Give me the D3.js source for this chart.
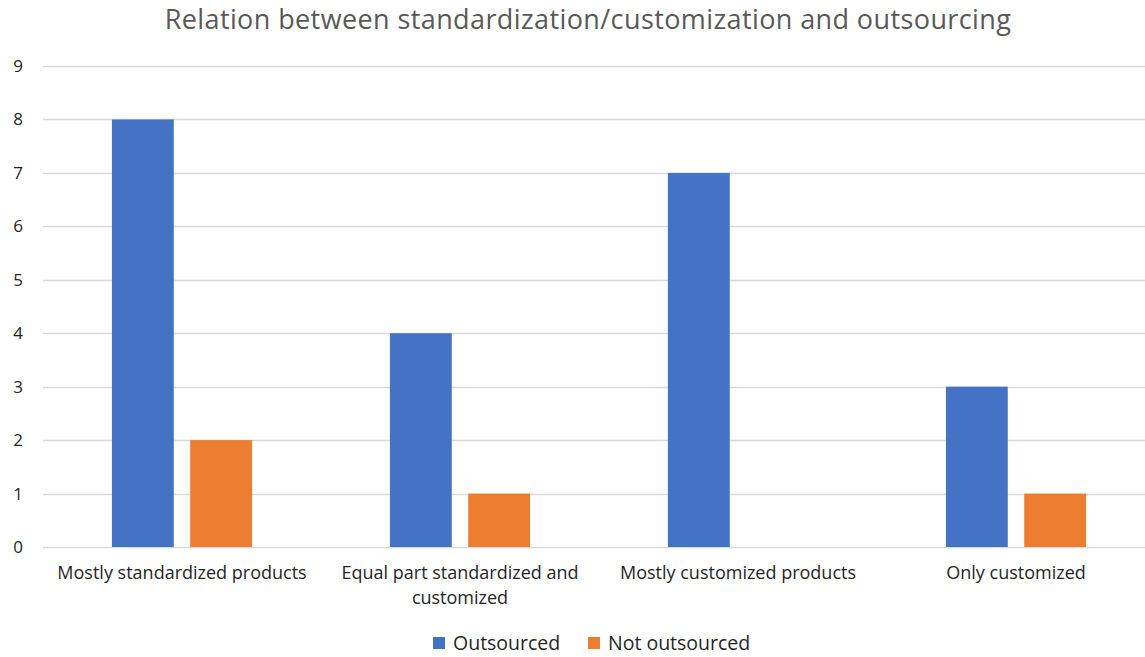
<!DOCTYPE html>
<html>
<head>
<meta charset="utf-8">
<script src="https://cdn.jsdelivr.net/npm/d3@7"></script>
<style>
  html, body { margin: 0; padding: 0; background: #fff; }
  svg { display: block; font-family: "Open Sans", Lato, sans-serif; }
</style>
</head>
<body>
<svg id="chart" width="1145" height="657"></svg>
<script>
const title = "Relation between standardization/customization and outsourcing";
const categories = [
  "Mostly standardized products",
  "Equal part standardized and customized",
  "Mostly customized products",
  "Only customized"
];
const seriesNames = ["Outsourced", "Not outsourced"];
const outsourced = [8, 4, 7, 3];
const notOutsourced = [2, 1, 0, 1];
const yTicks = [0, 1, 2, 3, 4, 5, 6, 7, 8, 9];
const colors = ["#4472C4", "#ED7D31"];

const svg = d3.select("#chart");
const margin = { left: 43, right: -10, top: 66, bottom: 110 };
const W = 1145, H = 657;
const plotLeft = margin.left, plotRight = W - margin.right;
const plotTop = margin.top, plotBottom = H - margin.bottom;

const x = d3.scaleBand().domain(categories).range([plotLeft, plotRight]).paddingInner(0).paddingOuter(0);
const xInner = d3.scaleBand().domain(seriesNames).range([0, x.bandwidth()]).paddingInner(0.21).paddingOuter(0.88);
const y = d3.scaleLinear().domain([0, 9]).range([plotBottom, plotTop]);

// gridlines
svg.append("g")
  .selectAll("line")
  .data(yTicks)
  .join("line")
  .attr("x1", plotLeft).attr("x2", W)
  .attr("y1", d => Math.round(y(d)) + 0.5).attr("y2", d => Math.round(y(d)) + 0.5)
  .attr("stroke", "#D9D9D9").attr("stroke-width", 1.5);

// y-axis labels
const yAxis = d3.axisLeft(y).tickValues(yTicks).tickSize(0).tickPadding(0);
const yg = svg.append("g").attr("transform", `translate(23,0)`).call(yAxis);
yg.select(".domain").remove();
yg.selectAll("text").attr("font-size", 17).attr("fill", "#262626")
  .attr("font-family", "'Open Sans', sans-serif");

// bars
const rows = categories.map((c, i) => ({ cat: c, vals: [outsourced[i], notOutsourced[i]] }));
const groups = svg.append("g").selectAll("g")
  .data(rows).join("g")
  .attr("transform", d => `translate(${x(d.cat)},0)`);
groups.selectAll("rect")
  .data(d => d.vals.map((v, k) => ({ k, v })))
  .join("rect")
  .attr("x", d => xInner(seriesNames[d.k]))
  .attr("width", xInner.bandwidth())
  .attr("y", d => y(d.v))
  .attr("height", d => y(0) - y(d.v))
  .attr("fill", d => colors[d.k]);

// category labels (wrapped to band width)
function wrap(textSel, width) {
  textSel.each(function () {
    const t = d3.select(this);
    const words = t.text().split(/\s+/);
    t.text(null);
    let line = [];
    let tspan = t.append("tspan").attr("x", 0).attr("dy", 0);
    words.forEach(w => {
      line.push(w);
      tspan.text(line.join(" "));
      if (tspan.node().getComputedTextLength() > width && line.length > 1) {
        line.pop();
        tspan.text(line.join(" "));
        line = [w];
        tspan = t.append("tspan").attr("x", 0).attr("dy", 25).text(w);
      }
    });
  });
}
const xg = svg.append("g");
xg.selectAll("text")
  .data(categories)
  .join("text")
  .attr("transform", d => `translate(${x(d) + x.bandwidth() / 2},579)`)
  .attr("text-anchor", "middle")
  .attr("font-size", 18)
  .attr("fill", "#262626")
  .text(d => d)
  .call(wrap, 262);

// title
svg.append("text")
  .attr("x", 588).attr("y", 29)
  .attr("text-anchor", "middle")
  .attr("font-size", 27)
  .attr("letter-spacing", 0.4)
  .attr("fill", "#595959")
  .text(title);

// legend
const legend = svg.append("g").attr("transform", "translate(433,637)");
const legendX = [0, 155];
seriesNames.forEach((s, k) => {
  const g = legend.append("g").attr("transform", `translate(${legendX[k]},0)`);
  g.append("rect").attr("width", 12).attr("height", 12).attr("fill", colors[k]);
  g.append("text").attr("x", 20).attr("y", 13).attr("font-size", 19.5).attr("fill", "#262626").text(s);
});
</script>
</body>
</html>
